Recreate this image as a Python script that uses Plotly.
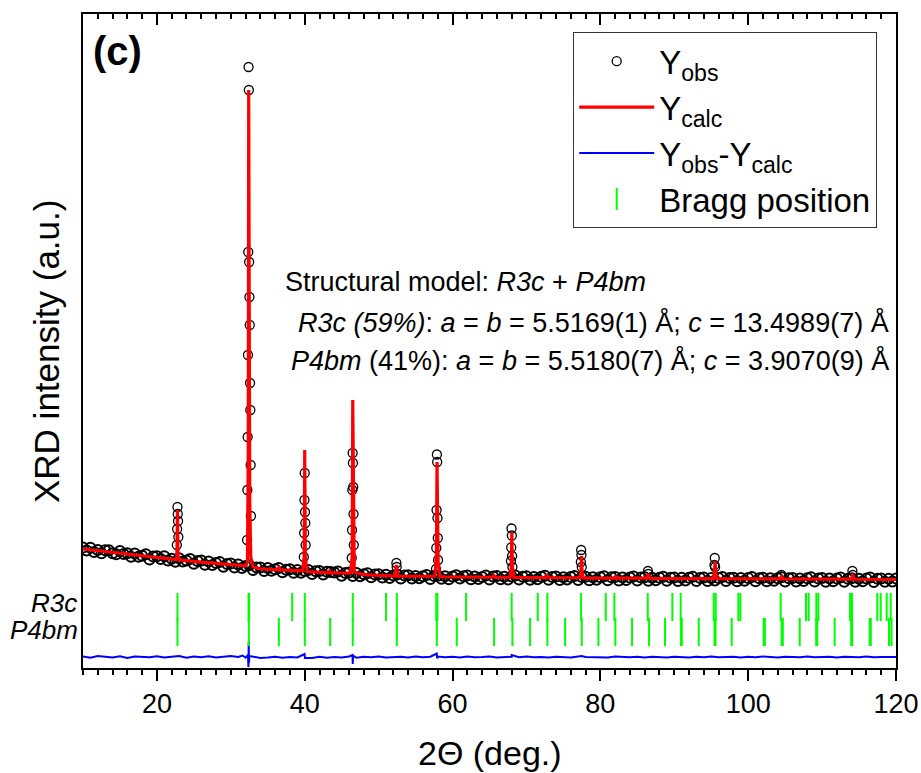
import plotly.graph_objects as go

# --- data (intensity in arbitrary counts) ---
# observed background, 2theta = 10 .. 120 deg in 0.5 deg steps
obs_bg = [
    1090, 1030, 1085, 1000, 1040, 975, 1035, 1035, 975, 955,
    1020, 960, 975, 905, 970, 905, 925, 955, 850, 910,
    915, 860, 915, 830, 865, 805, 875, 810, 830, 860,
    765, 820, 830, 745, 810, 740, 780, 800, 705, 760,
    770, 690, 750, 680, 720, 735, 640, 690, 690, 620,
    680, 625, 655, 680, 595, 645, 655, 585, 640, 585,
    620, 640, 560, 615, 620, 550, 605, 600, 590, 610,
    525, 580, 590, 520, 580, 515, 555, 575, 495, 550,
    555, 490, 545, 480, 530, 550, 470, 530, 535, 470,
    520, 475, 515, 540, 460, 520, 525, 465, 515, 455,
    510, 535, 470, 515, 530, 455, 510, 460, 500, 530,
    450, 510, 520, 455, 505, 450, 510, 530, 450, 505,
    515, 445, 500, 455, 505, 525, 445, 500, 510, 440,
    495, 450, 500, 520, 440, 500, 505, 435, 495, 445,
    495, 515, 435, 495, 500, 430, 490, 440, 490, 510,
    430, 490, 495, 425, 485, 435, 485, 505, 425, 485,
    490, 420, 485, 430, 485, 505, 420, 480, 490, 420,
    480, 430, 480, 500, 420, 480, 485, 415, 480, 425,
    480, 500, 415, 475, 485, 415, 475, 425, 475, 495,
    410, 475, 480, 410, 470, 420, 475, 495, 410, 470,
    480, 405, 470, 415, 470, 490, 405, 465, 475, 405,
    465, 415, 470, 490, 400, 465, 470, 405, 465, 410,
    470,
]
obs_bg_theta = [10 + 0.5 * i for i in range(len(obs_bg))]

# observed points on the reflections
obs_pk_theta = [
    22.70, 22.74, 22.78, 22.82, 22.86, 22.90,
    32.20, 32.24, 32.28, 32.32, 32.36, 32.40, 32.44, 32.48, 32.52, 32.56, 32.60, 32.64, 32.68, 32.72,
    39.88, 39.92, 39.96, 40.00, 40.04, 40.08, 40.12,
    46.36, 46.40, 46.44, 46.48, 46.52, 46.56, 46.60, 46.64,
    52.40, 52.44,
    57.76, 57.80, 57.84, 57.88, 57.92, 57.96, 58.00, 58.04,
    67.90, 67.94, 67.98, 68.02, 68.06, 68.10,
    77.36, 77.40, 77.44, 77.48,
    86.44, 86.48,
    95.44, 95.48, 95.52,
    104.50,
    114.10, 114.14,
]
obs_pk = [
    1140, 1460, 1900, 1760, 1620, 1300,
    1240, 2240, 3300, 4940, 7000, 10700, 10240, 6800, 6100, 5540, 4380, 3840, 2740, 1720,
    900, 1380, 2040, 2580, 1800, 1580, 1140,
    880, 1440, 2240, 2980, 2780, 2300, 1760, 1140,
    780, 700,
    660, 1080, 1840, 2950, 2800, 1680, 1280, 840,
    820, 1090, 1470, 1330, 920, 700,
    800, 1040, 940, 700,
    620, 560,
    740, 880, 700,
    540,
    620, 540,
]

# calculated profile
calc_theta = [
    10, 12, 14, 16, 18, 20, 22, 22.55, 22.70, 22.78, 22.86, 23.0, 26, 30,
    32.0, 32.25, 32.36, 32.42, 32.48, 32.56, 32.7, 33.0, 34,
    36.3, 36.5, 36.7, 39.7, 39.92, 40.0, 40.08, 40.3,
    43.2, 43.4, 43.6, 46.2, 46.42, 46.5, 46.58, 46.7, 48, 50,
    52.2, 52.4, 52.6, 57.6, 57.82, 57.9, 57.96, 58.05, 58.3, 60,
    65.4, 65.6, 65.8, 67.8, 67.95, 68.02, 68.1, 68.3,
    72.6, 72.8, 73.0, 77.2, 77.38, 77.45, 77.52, 77.7,
    81.9, 82.05, 82.2, 86.3, 86.5, 86.7,
    95.3, 95.45, 95.52, 95.6, 95.8, 104.3, 104.5, 104.7,
    114.0, 114.15, 114.3, 120,
]
calc = [
    1060, 1025, 990, 955, 920, 885, 856, 848, 900, 1840, 900, 841, 797, 739,
    725, 800, 3000, 10240, 6000, 2000, 900, 700, 665,
    645, 690, 642, 625, 900, 3040, 900, 610,
    585, 620, 582, 580, 900, 4040, 1200, 600, 546, 530,
    520, 740, 518, 515, 900, 2800, 1500, 800, 505, 500,
    495, 530, 494, 495, 700, 1400, 700, 492,
    488, 530, 487, 485, 600, 920, 600, 483,
    478, 520, 478, 476, 560, 474,
    468, 600, 820, 600, 467, 462, 520, 461,
    456, 560, 455, 450,
]

# difference curve Yobs - Ycalc, 1 deg grid plus points on the reflections
diff_grid = [
    10, -15, 20, 5, -10, 15, -20, 10, 0, -5,
    15, -10, 5, 20, -15, 10, -5, 15, -10, 5,
    20, 0, -15, 10, -20, -10, 5, -15, 0, -10,
    10, -20, 5, -15, 0, -10, 10, -15, 5, -5,
    10, -10, 0, 5, -10, 10, -5, 5, 10, -5,
    5, -10, 10, -5, 0, 10, -10, 5, 5, -5,
    10, -5, 0, -10, 5, 5, -10, 10, 0, -5,
    5, -10, 10, 0, -5, 5, -10, 5, 0, -10,
    5, 0, -10, 5, -5, 10, -5, 0, 5, -10,
    5, -5, 10, 0, -10, 5, 0, -5, 10, -5,
    0, 5, -10, 5, 0, -5, 10, -5, 0, 5,
    0,
]
diff_pk_theta = [22.8, 31.6, 32.32, 32.38, 32.42, 32.46, 32.52, 39.98, 40.02,
                 46.46, 46.50, 46.54, 57.86, 57.92, 68.0, 77.44]
diff_pk = [25, 30, 40, -200, 300, -120, 20, 60, -20,
           40, -140, 30, 70, -30, 40, 20]

# Bragg reflection positions
r3c_pos = [22.78, 32.40, 32.48, 38.30, 40.01, 46.50, 51.00, 52.46, 57.80, 57.95, 61.83,
           68.00, 71.53, 72.83, 77.39, 80.73, 81.89, 86.41, 89.74, 90.87, 95.34, 95.61,
           98.67, 98.94, 104.40, 107.82, 108.19, 109.22, 109.49, 113.78, 114.05,
           117.47, 117.93, 118.74, 119.28]
p4bm_pos = [22.78, 32.44, 36.50, 40.01, 43.44, 46.50, 52.46, 57.87, 60.57, 65.62, 68.10,
            70.49, 72.83, 75.23, 77.48, 79.73, 82.03, 84.29, 86.59, 88.75, 90.90, 91.02,
            93.31, 95.45, 95.58, 97.77, 102.10, 102.26, 104.53, 104.69, 106.97, 109.20,
            109.34, 111.70, 113.93, 114.07, 116.45, 116.59, 119.05, 119.40]

# vertical placement of the lower panels
R3C_ROW = -100
P4BM_ROW = -600
DIFF_OFFSET = -1100

FONT = "Arial, Liberation Sans, sans-serif"

diff_pairs = sorted(list(zip([10 + i for i in range(len(diff_grid))], diff_grid)) +
                    list(zip(diff_pk_theta, diff_pk)))
diff_theta = [p[0] for p in diff_pairs]
diff_vals = [p[1] + DIFF_OFFSET for p in diff_pairs]

fig = go.Figure()

# dense background points drawn heavier so the band reads as solid
fig.add_trace(go.Scatter(
    x=obs_bg_theta, y=obs_bg, mode="markers", legendgroup="obs", showlegend=False,
    marker=dict(symbol="circle-open", size=10, color="black", line=dict(width=2)),
))
fig.add_trace(go.Scatter(
    x=obs_pk_theta, y=obs_pk, mode="markers", legendgroup="obs",
    name="Y<sub>obs</sub>",
    marker=dict(symbol="circle-open", size=9, color="black", line=dict(width=1.3)),
))
fig.add_trace(go.Scatter(
    x=calc_theta, y=calc, mode="lines", name="Y<sub>calc</sub>",
    line=dict(color="#ff0000", width=3.2),
))
fig.add_trace(go.Scatter(
    x=diff_theta, y=diff_vals, mode="lines", name="Y<sub>obs</sub>-Y<sub>calc</sub>",
    line=dict(color="#0000ff", width=2),
))
fig.add_trace(go.Scatter(
    x=r3c_pos, y=[R3C_ROW] * len(r3c_pos), mode="markers", name="Bragg position",
    marker=dict(symbol="line-ns", size=20, line=dict(color="#00ff00", width=2)),
))
fig.add_trace(go.Scatter(
    x=p4bm_pos, y=[P4BM_ROW] * len(p4bm_pos), mode="markers", showlegend=False,
    marker=dict(symbol="line-ns", size=20, line=dict(color="#00ff00", width=2)),
))
# carrier for the top axis
fig.add_trace(go.Scatter(x=[10], y=[None], xaxis="x2", showlegend=False, hoverinfo="skip"))

L, R, T, B = 83, 25, 14, 105
W, H = 921, 773
pw, ph = W - L - R, H - T - B


def px(xp):
    return (xp - L) / pw


def py(yp):
    return (H - B - yp) / ph


annos = [
    dict(text="<b>(c)</b>", x=px(91), y=py(51), xanchor="left", yanchor="middle",
         font=dict(size=40)),
    dict(text="Structural model: <i>R3c</i> + <i>P4bm</i>", x=px(283), y=py(282),
         xanchor="left", yanchor="middle", font=dict(size=27)),
    dict(text="<i>R3c (59%)</i>: <i>a</i> = <i>b</i> = 5.5169(1) Å; <i>c</i> = 13.4989(7) Å",
         x=px(891), y=py(322), xanchor="right", yanchor="middle", font=dict(size=27)),
    dict(text="<i>P4bm</i> (41%): <i>a</i> = <i>b</i> = 5.5180(7) Å; <i>c</i> = 3.9070(9) Å",
         x=px(891), y=py(360), xanchor="right", yanchor="middle", font=dict(size=27)),
    dict(text="<i>R3c</i>", x=px(79), y=py(603), xanchor="right", yanchor="middle",
         font=dict(size=26)),
    dict(text="<i>P4bm</i>", x=px(80), y=py(630), xanchor="right", yanchor="middle",
         font=dict(size=26)),
    dict(text="XRD intensity (a.u.)", textangle=-90, x=px(47), y=py(352),
         xanchor="center", yanchor="middle", font=dict(size=35)),
    dict(text="2Θ (deg.)", x=0.5, y=py(753), xanchor="center", yanchor="middle",
         font=dict(size=34)),
]
for a in annos:
    a.update(xref="paper", yref="paper", showarrow=False)
    a["font"].update(family=FONT, color="black")

fig.update_layout(
    width=W, height=H,
    margin=dict(l=L, r=R, t=T, b=B),
    paper_bgcolor="white", plot_bgcolor="white",
    font=dict(family=FONT, color="black"),
    showlegend=True,
    legend=dict(x=px(573), y=py(32), xanchor="left", yanchor="top",
                bgcolor="white", bordercolor="#333333", borderwidth=1.2,
                font=dict(size=33, family=FONT), tracegroupgap=0,
                itemwidth=75),
    annotations=annos,
    xaxis=dict(
        range=[10, 120], tickvals=[20, 40, 60, 80, 100, 120], automargin=False,
        ticks="outside", ticklen=11, tickwidth=2, tickcolor="black",
        minor=dict(dtick=2, tick0=0, ticks="outside", ticklen=5, tickwidth=2,
                   tickcolor="black"),
        showline=True, linecolor="black", linewidth=2, showgrid=False, zeroline=False,
        tickfont=dict(size=27),
    ),
    xaxis2=dict(
        range=[10, 120], overlaying="x", side="top", anchor="y", matches="x",
        automargin=False,
        tickvals=[20, 40, 60, 80, 100, 120], showticklabels=False,
        ticks="inside", ticklen=11, tickwidth=2, tickcolor="black",
        minor=dict(dtick=2, tick0=0, ticks="inside", ticklen=5, tickwidth=2,
                   tickcolor="black"),
        showline=True, linecolor="black", linewidth=2, showgrid=False, zeroline=False,
    ),
    yaxis=dict(
        range=[-1320, 11760], showticklabels=False, ticks="", automargin=False,
        showline=True, mirror=True, linecolor="black", linewidth=2,
        showgrid=False, zeroline=False,
    ),
)

# the page's default 8px body margin would push the figure off the window
fig.write_html("out.html", config={"displayModeBar": False},
               post_script="document.body.style.margin='0';")
